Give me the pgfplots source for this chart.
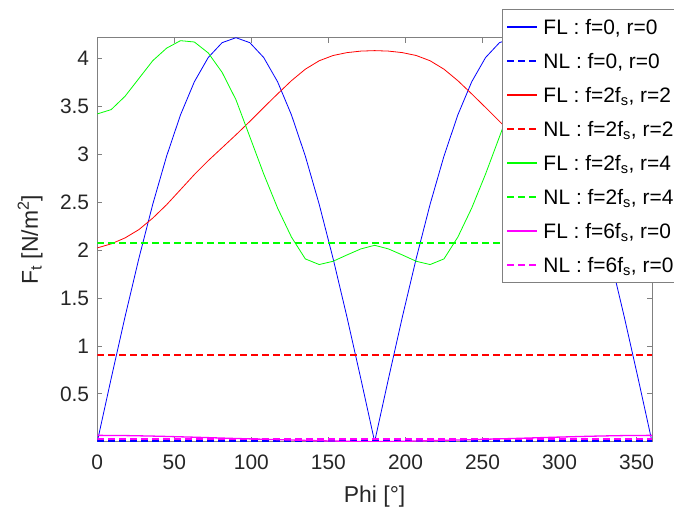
\documentclass[border=0pt]{standalone}
\usepackage{pgfplots}
\pgfplotsset{compat=1.18}
\usepackage{pgfplotstable}
\usepackage{fontspec}
\setmainfont{Liberation Sans}
\definecolor{axgray}{gray}{0.5}
\definecolor{txt}{RGB}{38,38,38}
\definecolor{mblue}{RGB}{0,0,255}
\definecolor{mred}{RGB}{255,0,0}
\definecolor{mgreen}{RGB}{0,255,0}
\definecolor{mmag}{RGB}{255,0,255}

\pgfplotstableread{
phi v
0 0
9 6600
18 13040
27 19150
36 24800
45 29830
54 34130
63 37590
72 40120
81 41670
90 42190
99 41670
108 40120
117 37590
126 34130
135 29830
144 24800
153 19150
162 13040
171 6600
180 0
189 6600
198 13040
207 19150
216 24800
225 29830
234 34130
243 37590
252 40120
261 41670
270 42190
279 41670
288 40120
297 37590
306 34130
315 29830
324 24800
333 19150
342 13040
351 6600
360 0
}\flzero

\pgfplotstableread{
phi v
0 20240
9 20660
18 21280
27 22150
36 23350
45 24750
54 26320
63 27900
72 29350
81 30700
90 32050
99 33450
108 34900
117 36320
126 37700
135 38900
144 39780
153 40330
162 40630
171 40790
180 40840
189 40790
198 40630
207 40330
216 39780
225 38900
234 37700
243 36320
252 34900
261 33450
270 32050
279 30700
288 29350
297 27900
306 26320
315 24750
324 23350
333 22150
342 21280
351 20660
360 20240
}\flred

\pgfplotstableread{
phi v
0 34230
9 34680
18 36070
27 37930
36 39790
45 41100
54 41880
63 41740
72 40600
81 38570
90 35710
99 31840
108 27960
117 24400
126 21370
135 19090
144 18500
153 18840
162 19500
171 20130
180 20510
189 20130
198 19500
207 18840
216 18500
225 19090
234 21370
243 24400
252 27960
261 31840
270 35710
279 38570
288 40600
297 41740
306 41880
315 41100
324 39790
333 37930
342 36070
351 34680
360 34230
}\flgreen

\pgfplotstableread{
phi v
0 660
9 655
18 640
27 615
36 585
45 550
54 510
63 470
72 425
81 380
90 335
99 295
108 255
117 215
126 175
135 135
144 100
153 70
162 40
171 15
180 0
189 15
198 40
207 70
216 100
225 135
234 175
243 215
252 255
261 295
270 335
279 380
288 425
297 470
306 510
315 550
324 585
333 615
342 640
351 655
360 660
}\flmag

\pgfplotstableread{
phi v
0 30
360 30
}\nlzero

\pgfplotstableread{
phi v
0 9030
360 9030
}\nlred

\pgfplotstableread{
phi v
0 20720
360 20720
}\nlgreen

\pgfplotstableread{
phi v
0 300
360 300
}\nlmag

\begin{document}
\begin{tikzpicture}
\path[use as bounding box] (-97.3bp,-71.3bp) rectangle (576.7bp,441.7bp);
\begin{axis}[
  at={(0,0)}, anchor=south west,
  scale only axis, width=554.7bp, height=404bp,
  xmin=0, xmax=360, ymin=0, ymax=42190,
  xtick={0,50,...,350}, ytick={5000,10000,...,40000},
  scaled y ticks=base 10:-4, ytick scale label code/.code={},
  tick align=inside, major tick length=5bp,
  axis line style={draw=axgray, line width=0.8bp},
  every tick/.style={draw=axgray, line width=0.8bp},
  /pgf/number format/assume math mode=true,
  tick label style={font=\fontsize{21}{25}\selectfont, text=txt, inner sep=0pt},
  xticklabel style={yshift=-13bp},
  yticklabel style={xshift=-8bp},
  xlabel={Phi [°]},
  ylabel={F\textsubscript{t} [N/m\textsuperscript{2}]},
  label style={font=\fontsize{23}{27}\selectfont, text=txt},
  xlabel style={at={(axis description cs:0.5,-0.1517)}, anchor=base},
  ylabel style={at={(axis description cs:-0.092,0.5)}, anchor=south},
  legend style={at={(axis description cs:0.729,1.0703)}, anchor=north west,
    draw=axgray, fill=white, line width=0.8bp,
    font=\fontsize{21}{25}\selectfont,
    inner xsep=4bp, inner ysep=0.5bp, column sep=5bp,
    nodes={inner sep=0pt, text height=15bp, text depth=0pt, minimum height=34bp}},
  legend cell align=left,
  legend image code/.code={\draw[line width=2.4bp,#1] (0bp,0bp) -- (30bp,0bp);},
  no markers,
  every axis plot/.append style={line width=0.8bp},
]
\addplot[draw=mblue, solid] table[x=phi,y=v] {\flzero};
\addlegendentry{FL : f=0, r=0}
\addplot[draw=mblue, line width=2.4bp, dash pattern=on 7bp off 4bp] table[x=phi,y=v] {\nlzero};
\addlegendentry{NL : f=0, r=0}
\addplot[draw=mred, solid] table[x=phi,y=v] {\flred};
\addlegendentry{FL : f=2f\textsubscript{s}, r=2}
\addplot[draw=mred, line width=2.4bp, dash pattern=on 7bp off 4bp] table[x=phi,y=v] {\nlred};
\addlegendentry{NL : f=2f\textsubscript{s}, r=2}
\addplot[draw=mgreen, solid] table[x=phi,y=v] {\flgreen};
\addlegendentry{FL : f=2f\textsubscript{s}, r=4}
\addplot[draw=mgreen, line width=2.4bp, dash pattern=on 7bp off 4bp] table[x=phi,y=v] {\nlgreen};
\addlegendentry{NL : f=2f\textsubscript{s}, r=4}
\addplot[draw=mmag, solid, line width=1.3bp] table[x=phi,y=v] {\flmag};
\addlegendentry{FL : f=6f\textsubscript{s}, r=0}
\addplot[draw=mmag, line width=2.4bp, dash pattern=on 7bp off 4bp] table[x=phi,y=v] {\nlmag};
\addlegendentry{NL : f=6f\textsubscript{s}, r=0}
\node[anchor=base west, inner sep=0pt, font=\fontsize{21}{25}\selectfont, text=txt] at (axis description cs:0.004,1.0149) {×10\textsuperscript{4}};
\end{axis}
\end{tikzpicture}
\end{document}
